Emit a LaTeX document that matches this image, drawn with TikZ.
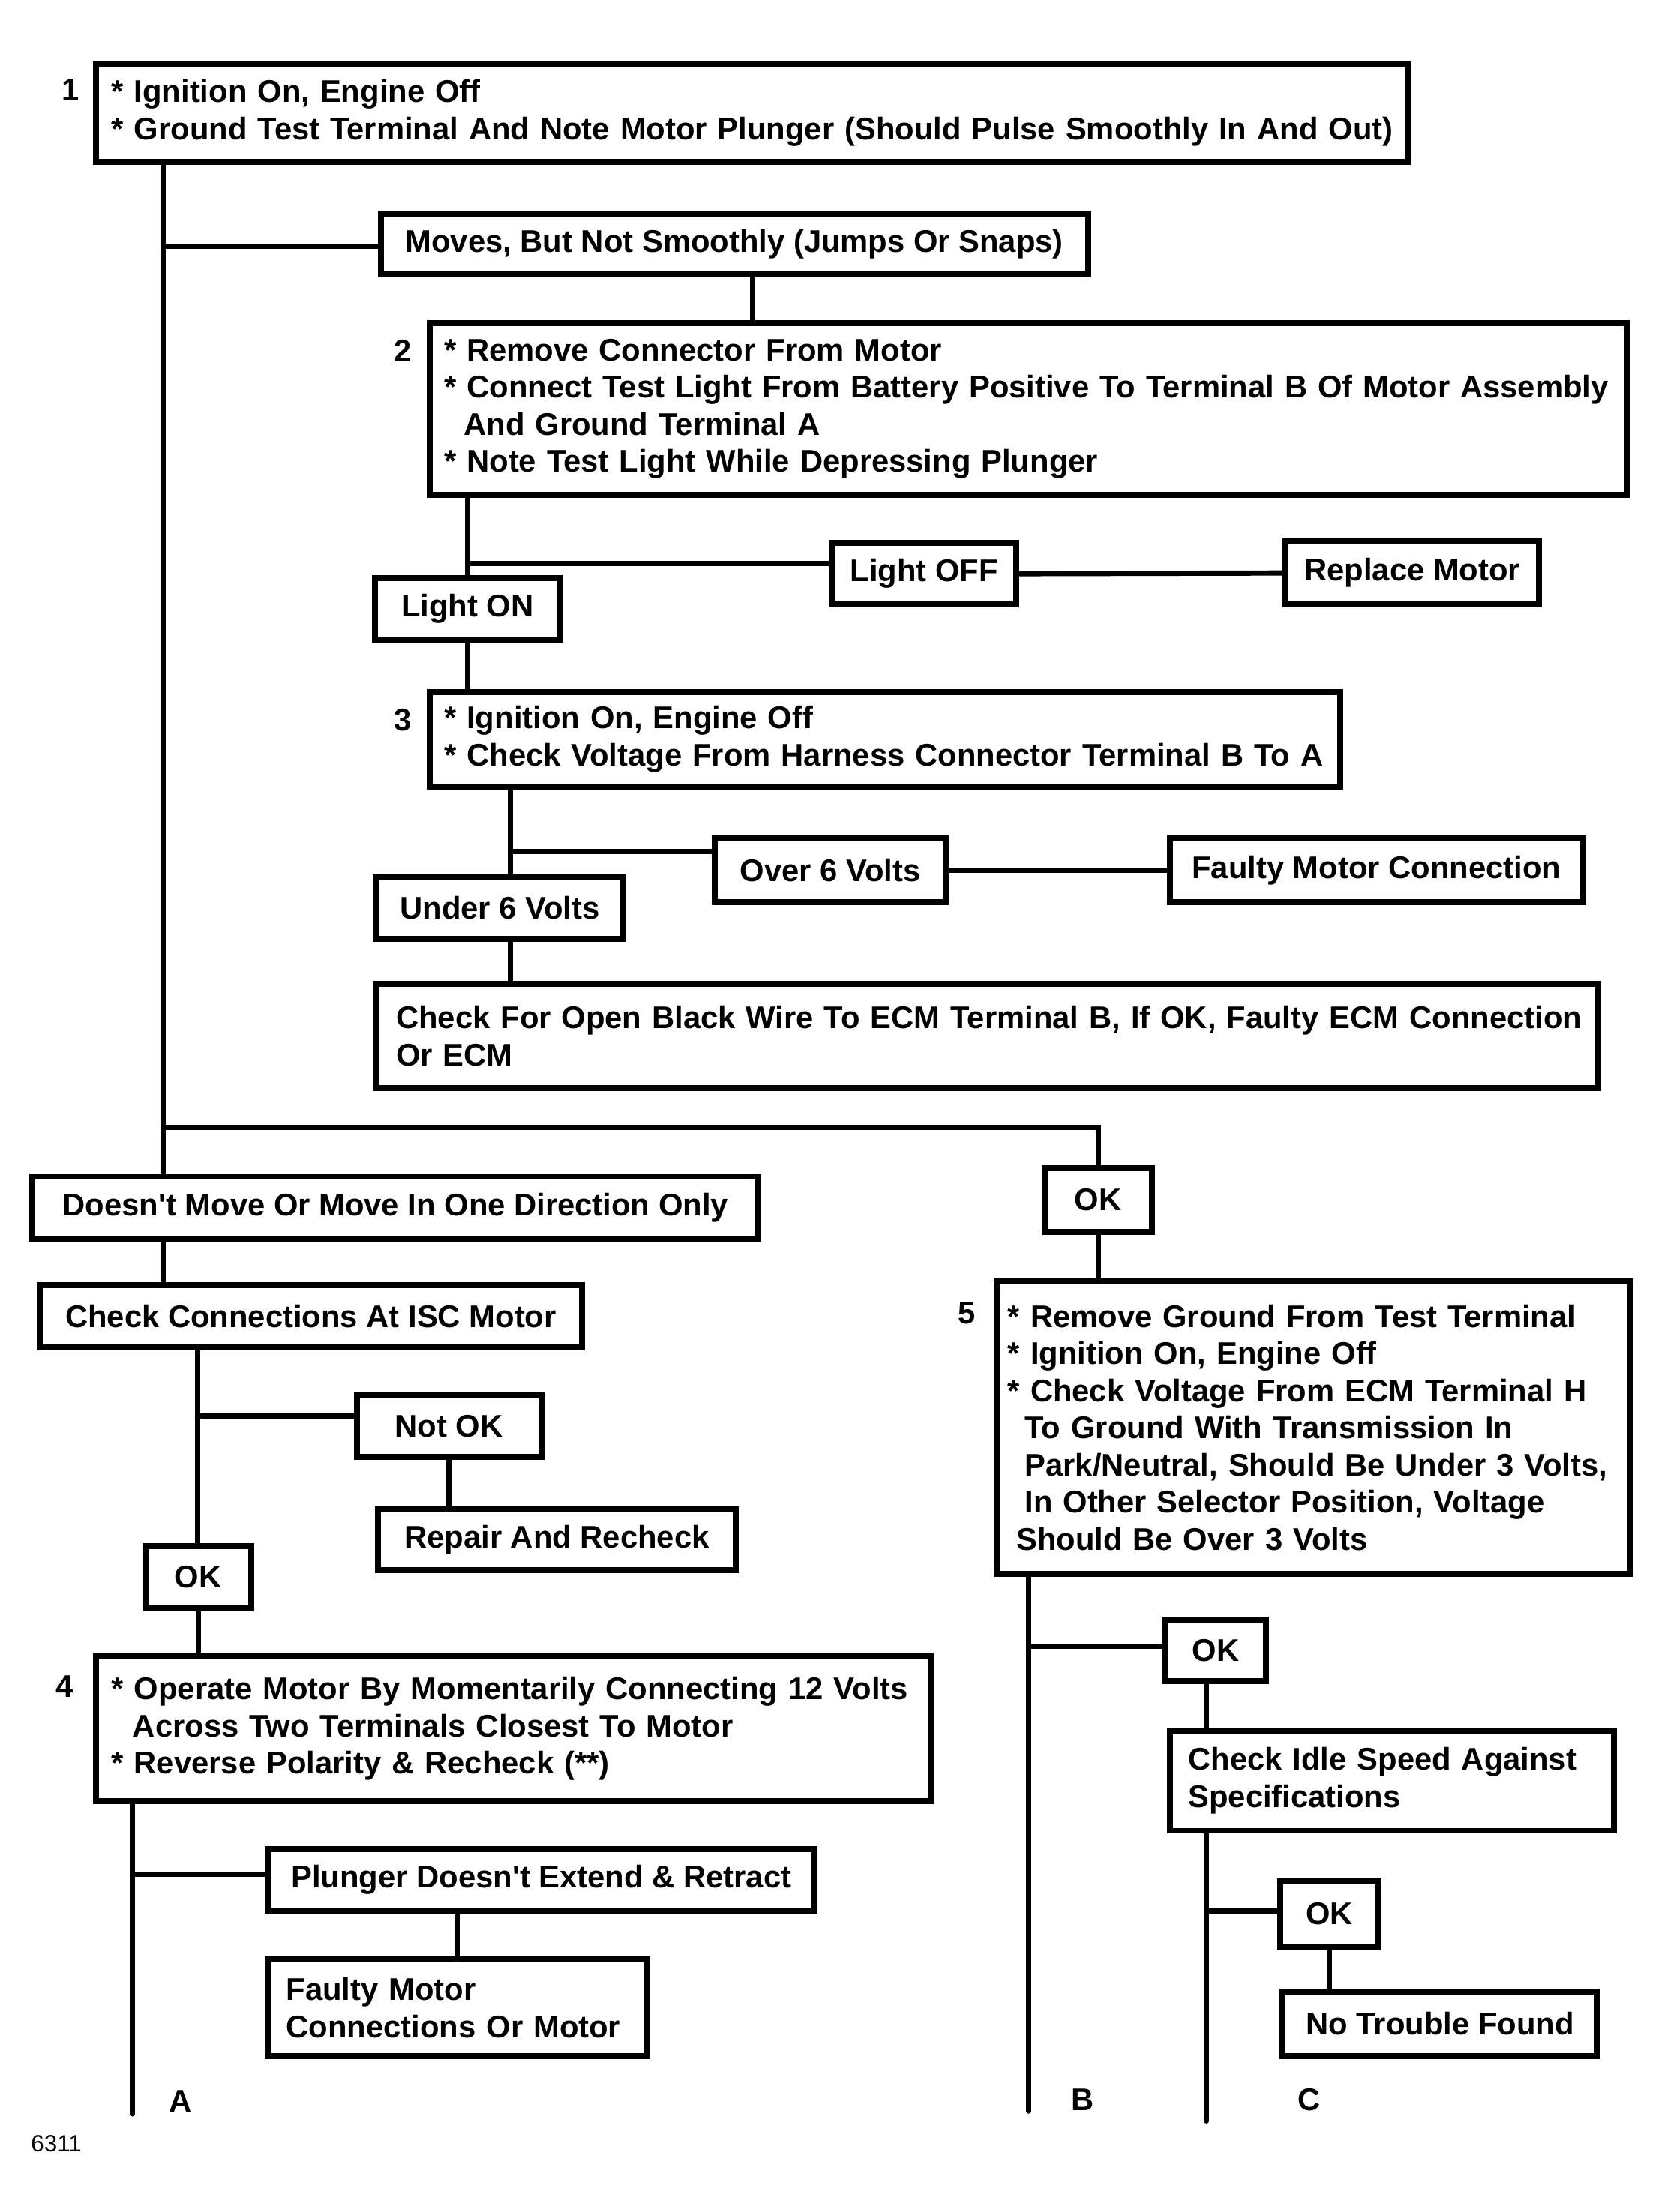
\documentclass[tikz,border=0pt]{standalone}
\usepackage{fontspec}
\setmainfont{Liberation Sans}
\usepackage{tikz}

\begin{document}
\begin{tikzpicture}[x = 0.02cm, y = -0.02cm, line width = 2.1pt, line cap = round,
                    font = \fontsize{12.65pt}{15pt}\selectfont\bfseries,
                    box/.style = {draw, line width = 2.4pt, line cap = butt, anchor = north west,
                                  align = left, inner xsep = 0.22cm, inner ysep = 0pt}]
    \useasboundingbox (0, 0) rectangle (1176.5, 1569.7);

    % steps 1 to 3
    \node [box, text width = 18.18cm, minimum height = 1.40cm] (one) at (66, 43)
        {{*} Ignition On, Engine Off\\
         \mbox{* Ground Test Terminal And Note Motor Plunger (Should Pulse Smoothly In And Out)}};
    \node [box, minimum width = 10.04cm, minimum height = 0.84cm] (moves) at (268, 150)
        {Moves, But Not Smoothly (Jumps Or Snaps)};
    \node [box, inner xsep = 0.2cm, text width = 16.58cm, minimum height = 2.44cm] (two) at (303, 227)
        {{*} Remove Connector From Motor\\
         \mbox{* Connect Test Light From Battery Positive To Terminal B Of Motor Assembly}\\
         \hspace*{0.28cm}And Ground Terminal A\\
         {*} Note Test Light While Depressing Plunger};
    \node [box, minimum width = 2.62cm, minimum height = 0.88cm] (off) at (588, 383) {Light OFF};
    \node [box, minimum width = 3.60cm, minimum height = 0.90cm] (repl) at (910, 382) {Replace Motor};
    \node [box, minimum width = 2.62cm, minimum height = 0.88cm] (on) at (264, 408) {Light ON};
    \node [box, inner xsep = 0.2cm, text width = 12.52cm, minimum height = 1.34cm] (three) at (303, 489)
        {{*} Ignition On, Engine Off\\
         \mbox{* Check Voltage From Harness Connector Terminal B To A}};
    \node [box, minimum width = 3.28cm, minimum height = 0.90cm] (over) at (505, 593) {Over 6 Volts};
    \node [box, minimum width = 5.86cm, minimum height = 0.90cm] (fmc) at (828, 593) {Faulty Motor Connection};
    \node [box, minimum width = 3.50cm, minimum height = 0.88cm] (under) at (265, 620) {Under 6 Volts};
    \node [box, inner xsep = 0.28cm, text width = 16.78cm, minimum height = 1.48cm] (open) at (265, 696)
        {\mbox{Check For Open Black Wire To ECM Terminal B, If OK, Faulty ECM Connection}\\
         Or ECM};

    % step 5
    \node [box, minimum width = 1.52cm, minimum height = 0.90cm] (ok5) at (739, 827) {OK};
    \node [box, inner xsep = 0.16cm, text width = 8.66cm, minimum height = 4.16cm] (five) at (705, 907)
        {{*} Remove Ground From Test Terminal\\
         {*} Ignition On, Engine Off\\
         {*} Check Voltage From ECM Terminal H\\
         \hspace*{0.24cm}To Ground With Transmission In\\
         \mbox{\hspace*{0.24cm}Park/Neutral, Should Be Under 3 Volts,}\\
         \hspace*{0.24cm}In Other Selector Position, Voltage\\
         \hspace*{0.12cm}Should Be Over 3 Volts};
    \node [box, minimum width = 1.42cm, minimum height = 0.88cm] (okB) at (825, 1147) {OK};
    \node [box, inner xsep = 0.26cm, text width = 5.78cm, minimum height = 1.42cm] (idle) at (828, 1226)
        {Check Idle Speed Against\\
         Specifications};
    \node [box, minimum width = 1.40cm, minimum height = 0.92cm] (okC) at (906, 1333) {OK};
    \node [box, minimum width = 4.46cm, minimum height = 0.92cm] (ntf) at (908, 1411) {No Trouble Found};

    % step 4
    \node [box, minimum width = 10.30cm, minimum height = 0.88cm] (dm) at (21, 833)
        {Doesn\textquotesingle t Move Or Move In One Direction Only};
    \node [box, minimum width = 7.70cm, minimum height = 0.88cm] (cc) at (26, 910)
        {Check Connections At ISC Motor};
    \node [box, minimum width = 2.62cm, minimum height = 0.88cm] (notok) at (251, 988) {Not OK};
    \node [box, minimum width = 5.08cm, minimum height = 0.86cm] (rr) at (266, 1069) {Repair And Recheck};
    \node [box, minimum width = 1.50cm, minimum height = 0.88cm] (okA) at (101, 1095) {OK};
    \node [box, text width = 11.42cm, minimum height = 2.06cm] (four) at (66, 1173)
        {\mbox{* Operate Motor By Momentarily Connecting 12 Volts}\\
         \hspace*{0.3cm}Across Two Terminals Closest To Motor\\
         {*} Reverse Polarity \& Recheck (**)};
    \node [box, minimum width = 7.76cm, minimum height = 0.88cm] (plg) at (188, 1310)
        {Plunger Doesn\textquotesingle t Extend \& Retract};
    \node [box, inner xsep = 0.26cm, text width = 4.86cm, minimum height = 1.38cm] (fm) at (188, 1388)
        {Faulty Motor\\
         Connections Or Motor};

    % step numbers and exits
    \node (s1) at (50, 64) {1};
    \node (s2) at (286, 249) {2};
    \node (s3) at (286, 511) {3};
    \node (s4) at (46, 1197) {4};
    \node (s5) at (686, 932) {5};
    \node (la) at (128, 1491) {A};
    \node (lb) at (768, 1490) {B};
    \node (lc) at (929, 1490) {C};
    \node [font = \fontsize{9.5pt}{11pt}\selectfont] (fig) at (40, 1521) {6311};

    % junctions
    \coordinate (jm) at (116, 175);
    \coordinate (jok) at (116, 800);
    \coordinate (v2) at (534, 0);
    \coordinate (j2) at (332, 400);
    \coordinate (j3) at (362, 604);
    \coordinate (jB) at (730, 1168);
    \coordinate (endB) at (730, 1498);
    \coordinate (jC) at (856, 1356);
    \coordinate (endC) at (856, 1505);
    \coordinate (jN) at (140, 1005);
    \coordinate (jA) at (94, 1330);
    \coordinate (endA) at (94, 1500);

    \draw (one.south -| jm) -- (dm.north -| jm);
    \draw (jm) -- (moves.west |- jm);
    \draw (jok) -| (ok5.north);
    \draw (moves.south -| v2) -- (two.north -| v2);
    \draw (two.south -| j2) -- (on.north -| j2);
    \draw (j2) -- (off.west |- j2);
    \draw (off.east) -- (repl.west);
    \draw (on.south) -- (three.north -| on.south);
    \draw (three.south -| j3) -- (under.north -| j3);
    \draw (j3) -- (over.west |- j3);
    \draw (over.east) -- (fmc.west);
    \draw (under.south -| j3) -- (open.north -| j3);

    \draw (ok5.south) -- (five.north -| ok5.south);
    \draw (five.south -| jB) -- (endB);
    \draw (jB) -- (okB.west |- jB);
    \draw (okB.south -| jC) -- (idle.north -| jC);
    \draw (idle.south -| jC) -- (endC);
    \draw (jC) -- (okC.west |- jC);
    \draw (okC.south) -- (ntf.north -| okC.south);

    \draw (dm.south -| jm) -- (cc.north -| jm);
    \draw (cc.south -| jN) -- (okA.north -| jN);
    \draw (jN) -- (notok.west |- jN);
    \draw (notok.south) -- (rr.north -| notok.south);
    \draw (okA.south) -- (four.north -| okA.south);
    \draw (four.south -| jA) -- (endA);
    \draw (jA) -- (plg.west |- jA);
    \draw (fm.north) -- (plg.south -| fm.north);
\end{tikzpicture}
\end{document}
